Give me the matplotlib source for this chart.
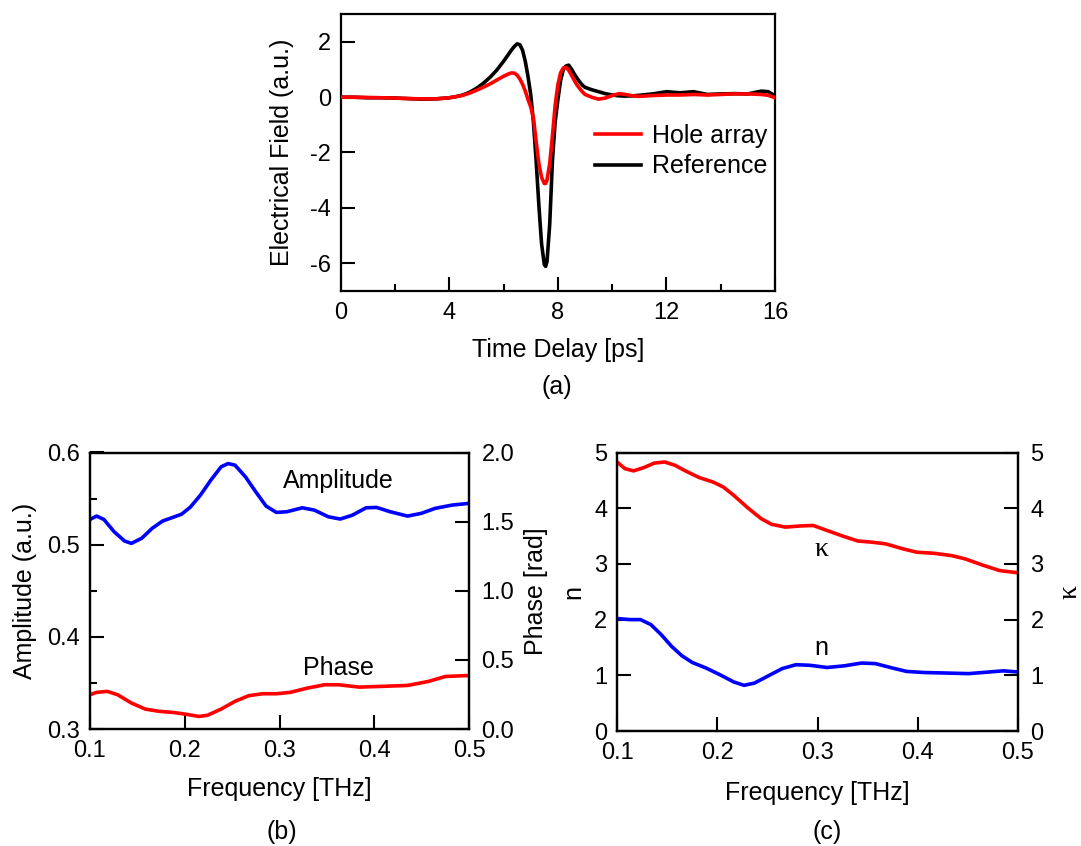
import numpy as np
import matplotlib
matplotlib.use("Agg")
import matplotlib.pyplot as plt
from matplotlib.ticker import MultipleLocator

plt.rcParams['font.family'] = ['Liberation Sans', 'DejaVu Sans']
plt.rcParams['font.size'] = 17
plt.rcParams['axes.unicode_minus'] = False

# (a) time-domain THz pulses
time_ps = [0, 0.5, 1, 1.5, 2, 2.5, 3, 3.5, 4, 4.25, 4.5, 4.75, 5.0, 5.25, 5.5,
           5.75, 6.0, 6.2, 6.3, 6.4, 6.5, 6.6, 6.7, 6.8, 6.9, 7.0, 7.1, 7.2,
           7.3, 7.4, 7.5, 7.55, 7.6, 7.7, 7.8, 7.9, 8.0, 8.1, 8.2, 8.3, 8.4,
           8.5, 8.6, 8.7, 8.8, 8.9, 9.0, 9.25, 9.5, 9.75, 10, 10.25, 10.5,
           10.75, 11, 11.5, 12, 12.5, 13, 13.5, 14, 14.5, 15, 15.5, 15.75, 16]
field_ref = [0.0, 0.0, -0.02, -0.02, -0.03, -0.05, -0.07, -0.06, -0.02, 0.02,
             0.08, 0.18, 0.32, 0.5, 0.72, 0.98, 1.3, 1.58, 1.72, 1.84, 1.93,
             1.9, 1.7, 1.3, 0.75, 0.1, -0.9, -2.3, -3.9, -5.3, -6.05, -6.12,
             -5.95, -4.6, -2.3, -0.9, -0.1, 0.6, 1.0, 1.13, 1.16, 1.02, 0.85,
             0.7, 0.56, 0.44, 0.36, 0.27, 0.2, 0.13, 0.08, 0.05, 0.04, 0.05,
             0.07, 0.12, 0.2, 0.16, 0.2, 0.1, 0.12, 0.13, 0.12, 0.22, 0.2, 0.05]
field_hole = [0.0, 0.0, -0.01, -0.02, -0.03, -0.05, -0.06, -0.06, -0.02, 0.02,
              0.07, 0.15, 0.25, 0.36, 0.48, 0.62, 0.76, 0.85, 0.88, 0.87, 0.8,
              0.66, 0.47, 0.22, -0.08, -0.35, -0.75, -1.6, -2.4, -2.9, -3.12,
              -3.12, -3.0, -2.4, -1.4, -0.3, 0.45, 0.88, 1.06, 1.08, 0.98, 0.8,
              0.62, 0.45, 0.32, 0.2, 0.1, 0.0, -0.07, -0.03, 0.06, 0.13, 0.1,
              0.05, 0.03, 0.06, 0.08, 0.08, 0.1, 0.08, 0.1, 0.12, 0.12, 0.1,
              0.07, -0.02]

# (b) transmission amplitude and phase
freq_amp = [0.1, 0.107, 0.1146, 0.1255, 0.1364, 0.1437, 0.1546, 0.1656, 0.1765,
            0.1874, 0.1965, 0.2056, 0.2166, 0.2275, 0.2384, 0.2457, 0.253,
            0.264, 0.2749, 0.2858, 0.2967, 0.3077, 0.324, 0.3368, 0.3514,
            0.3641, 0.3769, 0.3914, 0.4024, 0.4169, 0.4352, 0.4497, 0.4643,
            0.4825, 0.5]
amplitude = [0.5274, 0.531, 0.5274, 0.514, 0.504, 0.5014, 0.507, 0.5177,
             0.5256, 0.5296, 0.533, 0.5404, 0.5538, 0.570, 0.5845, 0.588,
             0.5863, 0.5737, 0.5574, 0.5419, 0.535, 0.5357, 0.540, 0.5375,
             0.5303, 0.5278, 0.532, 0.540, 0.5404, 0.5357, 0.531, 0.534,
             0.5394, 0.543, 0.5448]
freq_phase = [0.1, 0.107, 0.1182, 0.1291, 0.1437, 0.1583, 0.1729, 0.1874,
              0.202, 0.2148, 0.2239, 0.2384, 0.253, 0.2676, 0.2821, 0.2967,
              0.3113, 0.3295, 0.3477, 0.3623, 0.3842, 0.406, 0.4352, 0.4571,
              0.4752, 0.5]
phase = [0.248, 0.265, 0.272, 0.248, 0.188, 0.144, 0.128, 0.120, 0.106, 0.091,
         0.099, 0.144, 0.20, 0.241, 0.255, 0.255, 0.265, 0.296, 0.320, 0.320,
         0.303, 0.308, 0.315, 0.344, 0.380, 0.387]

# (c) refractive index n and extinction coefficient kappa
freq_kappa = [0.1, 0.1079, 0.1165, 0.1269, 0.1372, 0.1475, 0.1579, 0.1682,
              0.182, 0.1958, 0.2061, 0.2165, 0.2302, 0.244, 0.2543, 0.2681,
              0.2819, 0.2957, 0.3095, 0.3267, 0.3405, 0.3543, 0.368, 0.3853,
              0.399, 0.4163, 0.4335, 0.4473, 0.4645, 0.4817, 0.5]
kappa = [4.83, 4.71, 4.67, 4.73, 4.81, 4.83, 4.77, 4.67, 4.55, 4.47, 4.38,
         4.23, 4.01, 3.81, 3.71, 3.66, 3.68, 3.69, 3.60, 3.49, 3.41, 3.39,
         3.36, 3.27, 3.21, 3.19, 3.15, 3.09, 2.98, 2.88, 2.84]
freq_n = [0.1, 0.1131, 0.1234, 0.1338, 0.1441, 0.1544, 0.1648, 0.1751, 0.1889,
          0.2027, 0.2165, 0.2268, 0.2371, 0.2509, 0.2647, 0.2785, 0.2923,
          0.3095, 0.3267, 0.3439, 0.3577, 0.3749, 0.3887, 0.406, 0.4301,
          0.4508, 0.4714, 0.4852, 0.5]
n_index = [2.02, 2.0, 2.0, 1.91, 1.73, 1.52, 1.35, 1.23, 1.13, 1.01, 0.88,
           0.82, 0.86, 0.99, 1.12, 1.19, 1.18, 1.14, 1.17, 1.22, 1.21, 1.13,
           1.07, 1.05, 1.04, 1.03, 1.06, 1.08, 1.06]

W, H = 1081, 846
fig = plt.figure(figsize=(W / 100, H / 100), dpi=100)

LABEL_FS = 18


def box(x0, y0, x1, y1):
    # pixel box (top-left origin) -> figure fraction rect
    return [x0 / W, 1 - y1 / H, (x1 - x0) / W, (y1 - y0) / H]


def fx(x, y):
    return x / W, 1 - y / H


def style(ax, right=False):
    for s in ax.spines.values():
        s.set_linewidth(1.6)
    ax.tick_params(which='both', direction='in', width=1.5, labelsize=17,
                   top=False, right=right)
    ax.tick_params(which='major', length=10)
    ax.tick_params(which='minor', length=5)
    ax.tick_params(axis='x', pad=8)
    ax.tick_params(axis='y', pad=7)


RED = '#ff0000'
BLUE = '#0000ff'
LW = 2.6

# ---- (a)
axa = fig.add_axes(box(340.7, 14.3, 775, 290.7))
axa.plot(time_ps, field_hole, color=RED, lw=LW, label='Hole array', zorder=3)
axa.plot(time_ps, field_ref, color='black', lw=LW, label='Reference', zorder=2)
axa.set_xlim(0, 16)
axa.set_ylim(-7, 3)
axa.xaxis.set_major_locator(MultipleLocator(4))
axa.xaxis.set_minor_locator(MultipleLocator(2))
axa.set_yticks([-6, -4, -2, 0, 2])
style(axa)
axa.set_xlabel('Time Delay [ps]', fontsize=LABEL_FS)
axa.set_ylabel('Electrical Field (a.u.)', fontsize=LABEL_FS)
axa.xaxis.set_label_coords(0.5, (290.7 - 350) / 276.4)
axa.xaxis.label.set_va('center')
axa.yaxis.set_label_coords((282.5 - 340.7) / 434.3, 0.5)
axa.yaxis.label.set_va('center')
leg = axa.legend(loc='center left', bbox_to_anchor=fx(595, 151),
                 bbox_transform=fig.transFigure, frameon=False,
                 handlelength=1.85, handletextpad=0.45, labelspacing=0.27,
                 fontsize=LABEL_FS, borderpad=0, borderaxespad=0)
fig.text(*fx(557, 387), '(a)', ha='center', va='center', fontsize=LABEL_FS)

# ---- (b)
axb = fig.add_axes(box(90, 452.5, 469, 729))
axb.plot(freq_amp, amplitude, color=BLUE, lw=LW)
axb.set_xlim(0.1, 0.5)
axb.set_ylim(0.3, 0.6)
axb.set_xticks([0.1, 0.2, 0.3, 0.4, 0.5])
axb.yaxis.set_major_locator(MultipleLocator(0.1))
axb.yaxis.set_minor_locator(MultipleLocator(0.05))
style(axb)
axb.set_xticklabels(['0.1', '0.2', '0.3', '0.4', '0.5'])
axb2 = axb.twinx()
axb2.plot(freq_phase, phase, color=RED, lw=LW)
axb2.set_ylim(0, 2.0)
axb2.set_yticks([0, 0.5, 1.0, 1.5, 2.0])
axb2.set_yticklabels(['0.0', '0.5', '1.0', '1.5', '2.0'])
style(axb2, right=True)
axb2.tick_params(axis='y', pad=9)
axb.set_xlabel('Frequency [THz]', fontsize=LABEL_FS)
axb.xaxis.set_label_coords(0.5, (729 - 789) / 276.5)
axb.xaxis.label.set_va('center')
axb.set_ylabel('Amplitude (a.u.)', fontsize=LABEL_FS)
axb.yaxis.set_label_coords((25 - 90) / 379, 0.5)
axb.yaxis.label.set_va('center')
axb2.set_ylabel('Phase [rad]', fontsize=LABEL_FS, rotation=90)
axb2.yaxis.set_label_coords((536 - 90) / 379, 0.5)
axb2.yaxis.label.set_va('center')
axb.text(0.362, 0.569, 'Amplitude', ha='center', va='center', fontsize=LABEL_FS)
axb2.text(0.362, 0.44, 'Phase', ha='center', va='center', fontsize=LABEL_FS)
fig.text(*fx(282, 832), '(b)', ha='center', va='center', fontsize=LABEL_FS)

# ---- (c)
axc = fig.add_axes(box(617, 452.5, 1018, 731))
axc.plot(freq_n, n_index, color=BLUE, lw=LW)
axc.set_xlim(0.1, 0.5)
axc.set_ylim(0, 5)
axc.set_xticks([0.1, 0.2, 0.3, 0.4, 0.5])
axc.set_xticklabels(['0.1', '0.2', '0.3', '0.4', '0.5'])
axc.set_yticks([0, 1, 2, 3, 4, 5])
style(axc)
axc2 = axc.twinx()
axc2.plot(freq_kappa, kappa, color=RED, lw=LW)
axc2.set_ylim(0, 5)
axc2.set_yticks([0, 1, 2, 3, 4, 5])
style(axc2, right=True)
axc2.tick_params(axis='y', pad=9)
axc.set_xlabel('Frequency [THz]', fontsize=LABEL_FS)
axc.xaxis.set_label_coords(0.5, (731 - 793) / 278.5)
axc.xaxis.label.set_va('center')
axc.set_ylabel('n', fontsize=LABEL_FS)
axc.yaxis.set_label_coords((573 - 617) / 401, 0.5)
axc.yaxis.label.set_va('center')
axc2.set_ylabel('\u03ba', fontsize=20, family=['Liberation Serif', 'DejaVu Serif'],
                rotation=90)
axc2.yaxis.set_label_coords((1070 - 617) / 401, 0.5)
axc2.yaxis.label.set_va('center')
axc2.text(0.304, 3.26, '\u03ba', ha='center', va='center', fontsize=20,
          family=['Liberation Serif', 'DejaVu Serif'])
axc.text(0.304, 1.49, 'n', ha='center', va='center', fontsize=LABEL_FS)
fig.text(*fx(827, 832), '(c)', ha='center', va='center', fontsize=LABEL_FS)

fig.savefig('out.png', dpi=100)
